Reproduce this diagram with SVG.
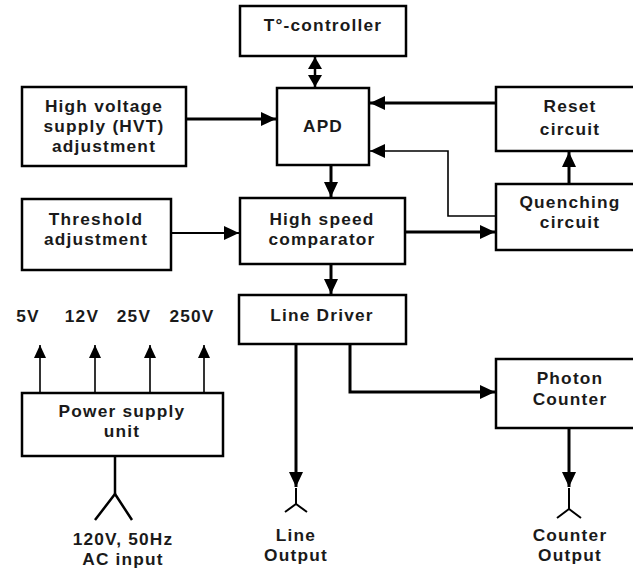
<svg xmlns="http://www.w3.org/2000/svg" width="633" height="569" viewBox="0 0 633 569">
<style>
.box{fill:#fff;stroke:#000;stroke-width:2.5}
text{font-family:"Liberation Sans",Arial,sans-serif;font-weight:bold;font-size:17.3px;letter-spacing:1.2px;fill:#1a1a1a;text-anchor:middle}
.thick{fill:none;stroke:#000;stroke-width:3}
.thin{fill:none;stroke:#000;stroke-width:1.6}
</style>
<defs>
<marker id="ah" markerUnits="userSpaceOnUse" markerWidth="16" markerHeight="14" refX="15" refY="7" orient="auto-start-reverse"><path d="M0,0 L15,7 L0,14 Z" fill="#000"/></marker>
<marker id="ahd" markerUnits="userSpaceOnUse" markerWidth="13" markerHeight="14" refX="12" refY="7" orient="auto-start-reverse"><path d="M0,0 L12,7 L0,14 Z" fill="#000"/></marker>
<marker id="ahs" markerUnits="userSpaceOnUse" markerWidth="14" markerHeight="12" refX="13" refY="6" orient="auto"><path d="M0,0 L13,6 L0,12 Z" fill="#000"/></marker>
</defs>
<g id="connectors">
<line class="thick" x1="315" y1="57" x2="315" y2="87" style="stroke-width:2.5" marker-start="url(#ahd)" marker-end="url(#ahd)"/>
<line class="thick" x1="186" y1="119" x2="276" y2="119" marker-end="url(#ah)"/>
<line class="thick" x1="496" y1="103" x2="370" y2="103" marker-end="url(#ah)"/>
<polyline class="thin" points="496,216 448,216 448,151 370,151" marker-end="url(#ah)"/>
<line class="thick" x1="569" y1="184" x2="569" y2="152" marker-end="url(#ah)"/>
<line class="thick" x1="331" y1="165" x2="331" y2="197" marker-end="url(#ah)"/>
<line class="thick" x1="171" y1="233" x2="239" y2="233" style="stroke-width:2.2" marker-end="url(#ah)"/>
<line class="thick" x1="405" y1="232" x2="495" y2="232" marker-end="url(#ah)"/>
<line class="thick" x1="331" y1="264" x2="331" y2="294" marker-end="url(#ah)"/>
<line class="thick" x1="296" y1="344" x2="296" y2="487" marker-end="url(#ah)"/>
<polyline class="thick" points="350,344 350,392 495,392" marker-end="url(#ah)"/>
<line class="thick" x1="569" y1="428" x2="569" y2="487" marker-end="url(#ah)"/>
<line class="thin" x1="40" y1="393" x2="40" y2="345" marker-end="url(#ahs)"/>
<line class="thin" x1="95" y1="393" x2="95" y2="345" marker-end="url(#ahs)"/>
<line class="thin" x1="150" y1="393" x2="150" y2="345" marker-end="url(#ahs)"/>
<line class="thin" x1="204" y1="393" x2="204" y2="345" marker-end="url(#ahs)"/>
<polyline class="thick" points="115,456 115,494" style="stroke-width:2.5"/>
<polyline class="thick" points="95,520 115,494 132,520" style="stroke-width:2.5"/>
<polyline class="thick" points="296,488 296,504" style="stroke-width:2"/>
<polyline class="thick" points="285,512 296,504 307,512" style="stroke-width:2"/>
<polyline class="thick" points="569,488 569,509" style="stroke-width:2"/>
<polyline class="thick" points="557,518 569,509 581,518" style="stroke-width:2"/>
</g>
<g id="tcontroller"><rect class="box" x="240" y="6" width="166" height="50"/><text x="323" y="31">T°-controller</text></g>
<g id="apd"><rect class="box" x="277" y="88" width="92" height="77"/><text x="323" y="132">APD</text></g>
<g id="hvt"><rect class="box" x="22" y="87" width="164" height="79"/><text x="104" y="112">High voltage</text><text x="104" y="132">supply (HVT)</text><text x="104" y="152">adjustment</text></g>
<g id="reset"><rect class="box" x="496" y="87" width="140" height="64"/><text x="570" y="112">Reset</text><text x="570" y="135">circuit</text></g>
<g id="quenching"><rect class="box" x="496" y="184" width="140" height="66"/><text x="570" y="208">Quenching</text><text x="570" y="228">circuit</text></g>
<g id="threshold"><rect class="box" x="22" y="199" width="149" height="71"/><text x="96" y="225">Threshold</text><text x="96" y="245">adjustment</text></g>
<g id="comparator"><rect class="box" x="240" y="198" width="165" height="66"/><text x="322" y="225">High speed</text><text x="322" y="245">comparator</text></g>
<g id="linedriver"><rect class="box" x="239" y="295" width="167" height="49"/><text x="322" y="321">Line Driver</text></g>
<g id="photoncounter"><rect class="box" x="496" y="359" width="140" height="69"/><text x="570" y="384">Photon</text><text x="570" y="405">Counter</text></g>
<g id="powersupply"><rect class="box" x="22" y="393" width="201" height="63"/><text x="122" y="417">Power supply</text><text x="122" y="437">unit</text></g>
<g id="voltages"><text x="28" y="322">5V</text><text x="82" y="322">12V</text><text x="134" y="322">25V</text><text x="192" y="322">250V</text></g>
<g id="acinput"><text x="123" y="545">120V, 50Hz</text><text x="123" y="565">AC input</text></g>
<g id="lineoutput"><text x="296" y="541">Line</text><text x="296" y="561">Output</text></g>
<g id="counteroutput"><text x="570" y="541">Counter</text><text x="570" y="561">Output</text></g>
</svg>
